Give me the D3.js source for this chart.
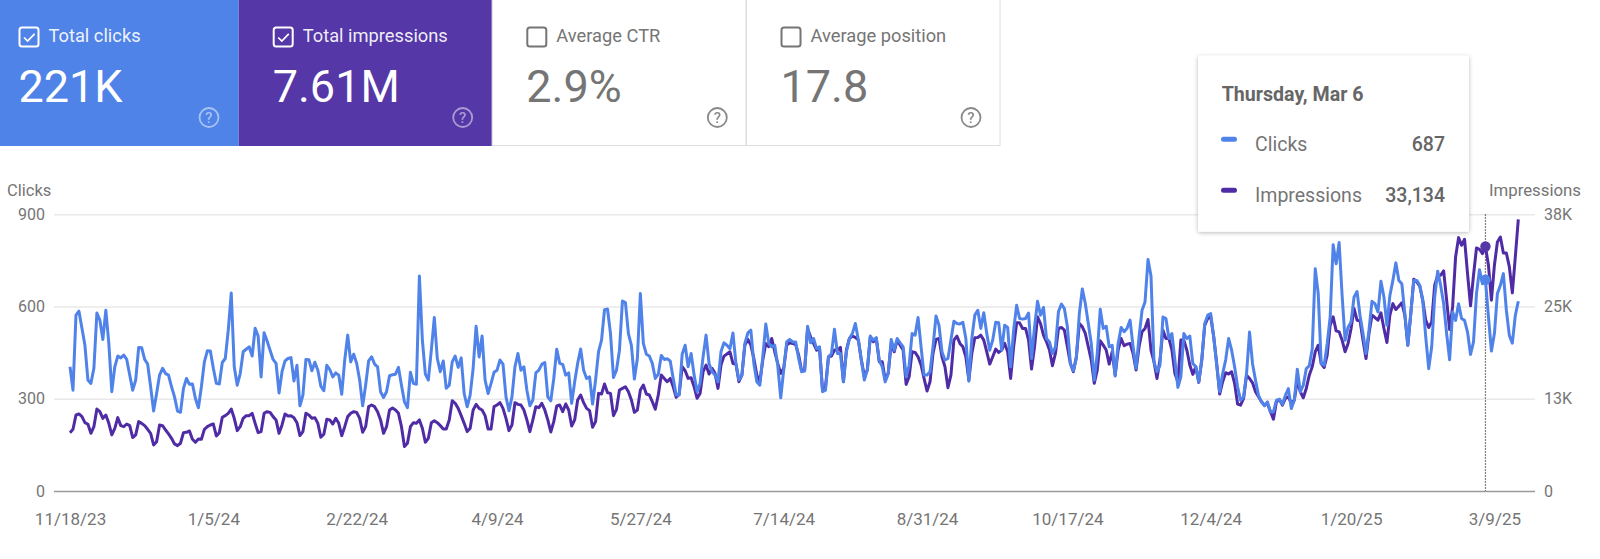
<!DOCTYPE html>
<html><head><meta charset="utf-8">
<script src="https://cdn.jsdelivr.net/npm/d3@7/dist/d3.min.js"></script>
<style>
html,body{margin:0;padding:0;background:#fff;overflow:hidden}
svg{display:block}
text{font-family:Roboto,sans-serif}
</style></head><body><svg id="c" width="1600" height="559"></svg>
<script>
const startDate = "2023-11-18";
const tickLabels = ["11/18/23","1/5/24","2/22/24","4/9/24","5/27/24","7/14/24","8/31/24","10/17/24","12/4/24","1/20/25","3/9/25"];
const clickTicks = [0,300,600,900];
const impressionTicks = [0,12500,25000,37500];
const impressionTickLabels = ["0","13K","25K","38K"];
const cardTitles = ["Total clicks","Total impressions","Average CTR","Average position"];
const cardValues = ["221K","7.61M","2.9%","17.8"];
const cardChecked = [true,true,false,false];
const tooltipTitle = "Thursday, Mar 6";
const tooltipDay = 474;
const clicks = [
404,328,572,585,529,474,361,350,399,579,
556,493,588,480,323,404,439,433,442,428,
377,328,361,467,466,428,413,339,260,317,
377,399,382,377,339,306,260,256,334,366,
347,348,301,271,339,420,456,455,399,350,
348,418,431,523,644,404,344,382,453,461,
469,439,529,504,371,515,488,458,428,415,
319,388,423,431,434,358,409,277,312,428,
427,391,419,393,341,326,409,395,371,384,
377,315,426,507,420,445,415,361,277,344,
423,436,413,404,323,304,323,375,378,380,
402,344,290,271,386,350,347,699,491,380,
361,458,564,431,388,423,334,344,420,439,
402,433,317,274,312,399,536,436,504,361,
317,350,386,393,426,413,306,261,306,404,
447,393,404,328,277,296,384,393,412,418,
306,293,366,461,415,412,377,384,285,355,
415,462,393,366,371,283,361,453,491,590,
592,512,369,393,458,618,613,512,474,364,
431,642,480,445,439,415,366,380,441,428,
430,423,366,312,312,445,474,404,447,377,
323,350,436,507,415,388,377,355,453,482,
474,463,514,415,361,377,480,514,523,415,
355,344,436,543,480,469,474,409,303,393,
485,493,485,485,431,388,390,536,482,496,
463,469,323,328,436,447,526,447,447,355,
453,496,512,545,491,426,361,393,504,491,
499,426,404,355,382,493,458,496,482,469,
371,409,512,507,564,469,377,377,388,469,
569,539,453,426,431,491,552,545,543,549,
496,357,496,572,588,529,580,512,458,491,
549,547,458,539,532,404,523,604,561,559,
561,579,431,534,617,572,597,496,485,447,
469,583,608,593,534,415,391,431,577,657,
610,545,480,361,447,591,529,536,469,474,
374,480,532,518,529,556,469,399,501,588,
615,753,699,420,388,409,566,561,496,512,
426,337,371,512,496,504,415,404,355,426,
545,572,577,501,409,323,382,426,496,458,
404,339,295,306,382,517,414,360,311,290,
277,290,257,257,295,298,282,311,333,268,
295,396,322,344,398,407,463,723,642,414,
409,479,566,801,739,808,636,490,533,550,
631,649,571,512,447,523,617,609,582,682,
631,539,636,685,742,685,674,577,474,577,
685,685,669,620,501,398,469,631,715,669,
609,512,427,582,555,609,561,555,517,444,
485,642,720,674,687,566,455,512,642,669,
707,588,506,481,571,617];
const impressions = [
7910,8360,10300,10440,10080,9260,9040,7820,8720,11110,
10750,9850,10300,9170,7600,8500,9940,8860,8720,9080,
8860,7240,7600,9400,9170,8860,8360,7820,6240,6690,
8950,8860,8270,7730,7140,6380,6150,6470,7910,7960,
8140,7010,6600,7050,7010,8360,8720,8950,9080,7460,
7910,9990,10210,10530,11110,9850,8180,8720,9850,10210,
10210,10530,9170,7910,8050,10530,10750,10660,10080,9630,
7820,8950,10440,10170,10210,9940,9260,7510,8050,10530,
10300,9850,9940,9170,7280,7690,9720,9630,9080,9850,
9170,7500,8720,10080,10530,10750,10660,9850,7960,8720,
11430,11650,11430,10750,9630,7820,8720,10980,11250,10980,
10530,8720,6020,6470,8720,9260,9170,9630,8500,6600,
7140,9260,9530,9260,8860,8410,8410,9630,12240,11880,
11200,10210,9170,8050,8500,10980,11740,11200,10980,10210,
8410,8410,11430,11650,11970,11200,9850,8180,8950,11970,
11740,11650,10980,9630,8050,9630,11430,11290,11880,10980,
9630,8000,9400,11520,11650,10750,11790,10980,8810,9630,
12330,13010,11970,11200,10890,8630,9400,13230,13140,14500,
13320,13230,10210,11070,13680,13910,14130,13460,12330,10660,
10980,13680,14360,13140,13010,12110,11070,13010,15710,15260,
14810,15260,14130,12690,13140,16840,16300,15260,15350,14130,
12560,13230,16160,17070,15850,16620,15940,13910,17070,18280,
18560,18870,17290,17200,14810,15710,19770,20540,19770,17970,
15710,14810,17740,20000,19550,20670,18870,17290,15940,16620,
19770,20090,20000,19860,18420,16300,16390,22030,20900,20000,
19100,19320,13680,14130,18190,18280,19100,19100,19460,14810,
19100,20670,20990,20810,20450,17740,15580,16390,20900,20220,
20670,17520,17520,15040,15940,20000,18870,20450,19770,19100,
14450,15490,18870,18780,18190,17070,15260,13550,14810,18640,
20540,20670,18190,16840,14000,15710,20450,20990,20000,19550,
18190,15040,18640,20760,20810,21120,20450,18870,17200,18190,
19230,18780,19100,20000,18870,15260,19550,22790,22790,22030,
22030,20450,16530,19550,23610,22700,21120,20220,19100,16980,
18640,22030,22160,21800,19550,17290,16160,18190,22700,22250,
21350,19550,17740,14590,16390,20360,19770,19100,17200,18870,
15710,19100,20670,19680,19910,20000,18640,16390,19550,21580,
22030,23250,19100,17520,15260,17740,21800,20670,20670,19100,
15940,14810,20450,20450,19100,17070,15800,16840,14720,17740,
22480,23380,23610,20900,17290,13140,14810,16030,15850,16160,
14590,11790,11640,12540,15700,15250,14660,13450,12770,12090,
11640,11870,10740,9740,12090,12410,11640,12540,12770,11870,
12320,15020,13450,12630,13900,15700,16830,18860,19760,17280,
16740,18410,22470,23600,21700,21570,20440,18860,19990,22020,
24730,23150,23060,20440,17960,21340,23830,23510,23150,24140,
22020,20120,23830,25400,24590,25040,25500,23830,19760,24050,
28700,28340,27750,25860,23150,22160,22920,27890,29240,29240,
29830,25860,21880,24950,31720,34340,33300,34120,29470,25090,
29240,32940,32760,32170,33134,30600,25860,30600,33750,34430,
32260,32260,30370,26850,31720,36820];

const BLUE="#5083e8", PURPLE="#5537a7", LBLUE="#5083e9", GREY="#757575", DARK="#666";
const DAY=864e5, t0=Date.parse(startDate+"T00:00:00Z");
const dateAt=i=>new Date(t0+i*DAY);
const parseTick=s=>{const [m,d,y]=s.split("/").map(Number);return new Date(Date.UTC(2000+y,m-1,d));};
const svg=d3.select("#c");

// cards
const cardX=[0,238.7,491.8,746,1000];
const cardFill=[BLUE,PURPLE,"#fff","#fff"];
cardTitles.forEach((t,i)=>{
  const x0=cardX[i],w=cardX[i+1]-x0,on=cardChecked[i],col=on?"#fff":GREY;
  const g=svg.append("g").attr("transform",`translate(${x0},0)`);
  g.append("rect").attr("x",on?0:0.5).attr("y",-2).attr("width",on?w:w-0.5).attr("height",on?148:147.5)
    .attr("fill",cardFill[i]).attr("stroke",on?"none":"#dedede");
  const bx=i==0?18.5:i==1?34:34.5;
  g.append("rect").attr("x",bx+1).attr("y",27.5).attr("width",19).attr("height",19).attr("rx",2.5)
    .attr("fill","none").attr("stroke",col).attr("stroke-width",2);
  if(on) g.append("path").attr("d",`M${bx+5.5} 37.5l3.6 3.6l7-7.2`).attr("fill","none").attr("stroke",col).attr("stroke-width",1.7);
  g.append("text").attr("x",bx+30).attr("y",42).attr("font-size",18.3).attr("fill",on?"#fff":GREY).attr("fill-opacity",on?0.92:1).text(t);
  g.append("text").attr("x",bx).attr("y",102).attr("font-size",45).attr("fill",col).text(cardValues[i]);
  const hx=i==0?209:i==1?224:i==2?225.5:225;
  const hg=g.append("g").attr("opacity",on?0.5:0.85);
  hg.append("circle").attr("cx",hx).attr("cy",117.5).attr("r",9.5).attr("fill","none").attr("stroke",col).attr("stroke-width",1.8);
  hg.append("text").attr("x",hx).attr("y",123).attr("text-anchor","middle").attr("font-size",15).attr("font-weight",500).attr("fill",col).text("?");
});

// scales
const x=d3.scaleUtc().domain([dateAt(0),dateAt(clicks.length-1)]).range([70,1518.3]);
const yL=d3.scaleLinear().domain([0,900]).range([491,214.3]);
const yR=d3.scaleLinear().domain([0,37500]).range([491,214.3]);
const PL=54,PR=1535;

// grid + left axis
const aL=svg.append("g").attr("transform",`translate(${PL},0)`)
  .call(d3.axisLeft(yL).tickValues(clickTicks).tickSize(-(PR-PL)).tickPadding(9));
aL.select(".domain").remove();
aL.selectAll("line").attr("stroke",d=>d==0?"#9a9a9a":"#e9e9e9").attr("stroke-width",1.5);
aL.selectAll("text").attr("font-size",16).attr("fill",GREY).style("font-family","Roboto");
// right axis
const aR=svg.append("g").attr("transform",`translate(${PR},0)`)
  .call(d3.axisRight(yR).tickValues(impressionTicks).tickSize(0).tickPadding(9)
    .tickFormat((d,i)=>impressionTickLabels[i]));
aR.select(".domain").remove();
aR.selectAll("text").attr("font-size",16).attr("fill",GREY).style("font-family","Roboto");
// bottom axis
const aB=svg.append("g").attr("transform","translate(0,491)")
  .call(d3.axisBottom(x).tickValues(tickLabels.map(parseTick)).tickSize(0).tickPadding(22)
    .tickFormat((d,i)=>tickLabels[i]));
aB.select(".domain").remove();
aB.selectAll("text").attr("font-size",17).attr("fill",GREY).style("font-family","Roboto");

svg.append("text").attr("x",7).attr("y",196).attr("font-size",16.5).attr("fill",GREY).text("Clicks");
svg.append("text").attr("x",1581).attr("y",196).attr("text-anchor","end").attr("font-size",16.8).attr("fill",GREY).text("Impressions");

// cursor
svg.append("line").attr("x1",x(dateAt(tooltipDay))).attr("x2",x(dateAt(tooltipDay)))
  .attr("y1",214.3).attr("y2",491).attr("stroke","#555").attr("stroke-width",1.2).attr("stroke-dasharray","1.5 1.5");

// lines
const lineI=d3.line().x((d,i)=>x(dateAt(i))).y(d=>yR(d));
const lineC=d3.line().x((d,i)=>x(dateAt(i))).y(d=>yL(d));
svg.append("path").datum(impressions).attr("d",lineI).attr("fill","none").attr("stroke","#4f2ca6").attr("stroke-width",3).attr("stroke-linejoin","round");
svg.append("path").datum(clicks).attr("d",lineC).attr("fill","none").attr("stroke",LBLUE).attr("stroke-width",3).attr("stroke-linejoin","round");
svg.append("circle").attr("cx",x(dateAt(tooltipDay))).attr("cy",yR(impressions[tooltipDay])).attr("r",5.2).attr("fill",PURPLE);
svg.append("circle").attr("cx",x(dateAt(tooltipDay))).attr("cy",yL(clicks[tooltipDay])).attr("r",5.2).attr("fill",LBLUE);

// tooltip
const defs=svg.append("defs");
const f=defs.append("filter").attr("id","sh").attr("x","-10%").attr("y","-10%").attr("width","120%").attr("height","120%");
f.append("feDropShadow").attr("dx",0).attr("dy",1).attr("stdDeviation",2).attr("flood-color","#000").attr("flood-opacity",0.28);
const tt=svg.append("g").attr("transform","translate(1198,55.7)");
tt.append("rect").attr("width",271).attr("height",176).attr("rx",2).attr("fill","#fff").attr("filter","url(#sh)");
tt.append("text").attr("x",23.7).attr("y",45).attr("font-size",19.6).attr("font-weight",700).attr("fill",DARK).text(tooltipTitle);
[["Clicks",clicks[tooltipDay],LBLUE,95],["Impressions",impressions[tooltipDay],"#4f2ca6",146]].forEach(([n,v,c,b])=>{
  tt.append("rect").attr("x",23).attr("y",b-14).attr("width",16).attr("height",5).attr("rx",2.5).attr("fill",c);
  tt.append("text").attr("x",57).attr("y",b).attr("font-size",19.5).attr("fill",GREY).text(n);
  tt.append("text").attr("x",247).attr("y",b).attr("text-anchor","end").attr("font-size",19.5).attr("font-weight",500).attr("fill",DARK).text(d3.format(",")(v));
});
</script></body></html>
